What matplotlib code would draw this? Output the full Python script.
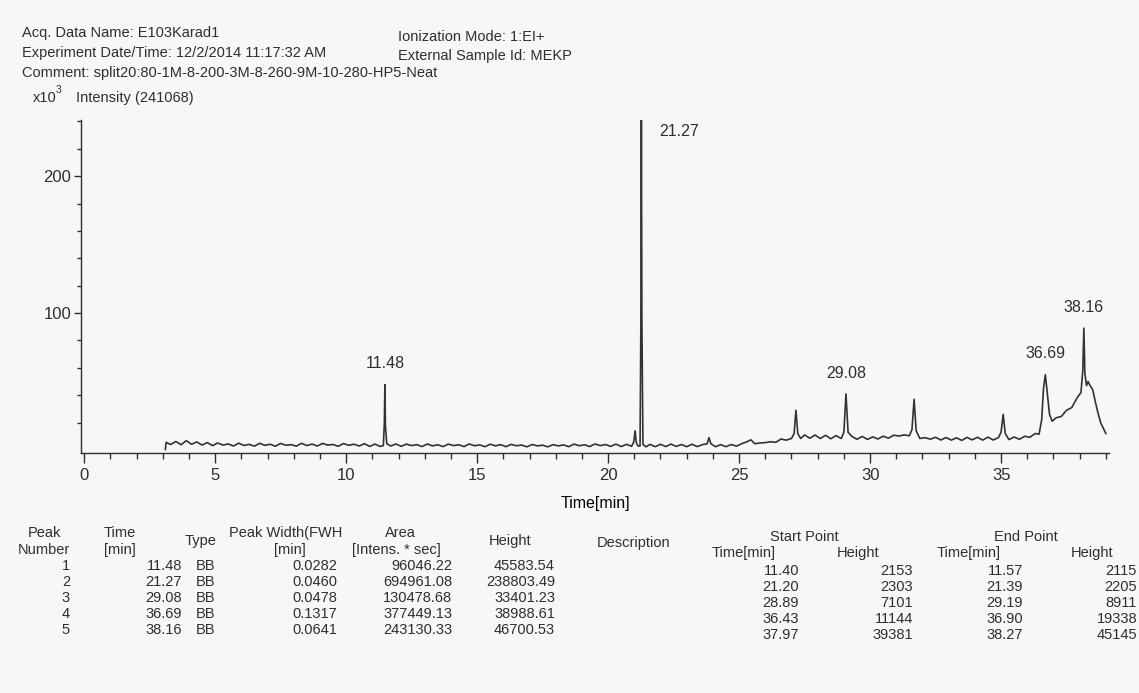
import matplotlib
matplotlib.use("Agg")
import matplotlib.pyplot as plt
from matplotlib.ticker import MultipleLocator

# chromatogram trace (time in min, intensity in x10^3 counts)
trace_time = [
    3.10, 3.13, 3.3, 3.5, 3.7, 3.9, 4.1, 4.3, 4.5, 4.7,
    4.9, 5.1, 5.3, 5.5, 5.7, 5.9, 6.1, 6.3, 6.5, 6.7,
    6.9, 7.1, 7.3, 7.5, 7.7, 7.9, 8.1, 8.3, 8.5, 8.7,
    8.9, 9.1, 9.3, 9.5, 9.7, 9.9, 10.1, 10.3, 10.5, 10.7,
    10.9, 11.1, 11.3, 11.42, 11.46, 11.48, 11.50, 11.55, 11.7, 11.9,
    12.1, 12.3, 12.5, 12.7, 12.9, 13.1, 13.3, 13.5, 13.7, 13.9,
    14.1, 14.3, 14.5, 14.7, 14.9, 15.1, 15.3, 15.5, 15.7, 15.9,
    16.1, 16.3, 16.5, 16.7, 16.9, 17.1, 17.3, 17.5, 17.7, 17.9,
    18.1, 18.3, 18.5, 18.7, 18.9, 19.1, 19.3, 19.5, 19.7, 19.9,
    20.1, 20.3, 20.5, 20.7, 20.9, 20.98, 21.03, 21.08, 21.15, 21.22,
    21.25, 21.27, 21.29, 21.33, 21.45, 21.6, 21.8, 22.0, 22.2, 22.4,
    22.6, 22.8, 23.0, 23.2, 23.4, 23.6, 23.78, 23.85, 23.92, 24.1,
    24.3, 24.5, 24.7, 24.9, 25.1, 25.3, 25.45, 25.6, 25.8, 26.0,
    26.2, 26.4, 26.6, 26.8, 27.0, 27.10, 27.17, 27.24, 27.35, 27.5,
    27.7, 27.9, 28.1, 28.3, 28.5, 28.7, 28.9, 29.0, 29.08, 29.16,
    29.3, 29.5, 29.7, 29.9, 30.1, 30.3, 30.5, 30.7, 30.9, 31.1,
    31.3, 31.5, 31.6, 31.68, 31.76, 31.9, 32.1, 32.3, 32.5, 32.7,
    32.9, 33.1, 33.3, 33.5, 33.7, 33.9, 34.1, 34.3, 34.5, 34.7,
    34.9, 35.0, 35.08, 35.16, 35.3, 35.5, 35.7, 35.9, 36.1, 36.3,
    36.45, 36.55, 36.62, 36.69, 36.76, 36.85, 36.95, 37.1, 37.3, 37.5,
    37.7, 37.9, 38.05, 38.12, 38.16, 38.20, 38.26, 38.32, 38.4, 38.5,
    38.6, 38.7, 38.8, 38.9, 39.0,
]
trace_kcounts = [
    0.3, 5.6, 4.0, 6.2, 3.9, 6.8, 4.2, 5.9, 3.6, 5.4,
    3.2, 5.1, 3.6, 4.4, 2.9, 5.0, 3.3, 4.1, 2.8, 4.9,
    3.4, 4.2, 2.7, 4.8, 3.5, 3.9, 2.8, 4.9, 3.2, 4.3,
    2.9, 4.8, 3.6, 4.0, 2.7, 4.7, 3.4, 4.2, 2.9, 4.6,
    2.6, 4.3, 2.6, 3.2, 20.0, 47.7, 18.0, 4.6, 2.9, 4.4,
    2.7, 4.3, 3.2, 3.9, 2.5, 4.4, 3.0, 3.8, 2.5, 4.3,
    3.2, 3.8, 2.5, 4.4, 3.1, 3.7, 2.4, 4.2, 3.0, 3.9,
    2.4, 4.1, 3.1, 3.6, 2.3, 4.0, 3.0, 3.5, 2.3, 3.9,
    3.0, 3.7, 2.4, 4.3, 3.1, 3.8, 2.5, 4.4, 3.2, 4.0,
    2.6, 4.3, 2.5, 4.1, 2.7, 6.0, 14.0, 5.0, 2.8, 3.0,
    90.0, 241.0, 95.0, 4.0, 2.3, 4.1, 2.4, 4.2, 2.5, 4.3,
    2.6, 4.0, 2.4, 4.2, 2.5, 3.9, 4.5, 9.0, 4.6, 2.4,
    3.9, 2.4, 4.0, 2.8, 4.6, 6.0, 7.4, 4.6, 5.1, 5.4,
    6.0, 5.6, 8.0, 7.2, 8.4, 12.0, 29.0, 12.0, 8.4, 11.0,
    8.6, 10.9, 8.4, 10.7, 8.2, 10.5, 8.4, 13.0, 41.0, 13.0,
    10.0, 7.8, 9.9, 7.7, 9.6, 8.0, 10.1, 8.6, 10.8, 10.2,
    11.0, 10.4, 15.0, 37.0, 14.0, 8.4, 9.0, 7.9, 9.3, 7.3,
    9.1, 7.2, 8.9, 7.0, 9.2, 7.4, 9.3, 7.2, 9.4, 7.3,
    9.0, 13.0, 26.0, 12.0, 7.6, 9.5, 7.8, 10.0, 9.3, 12.0,
    11.5, 22.0, 45.0, 55.0, 42.0, 26.0, 21.0, 23.5, 24.5, 29.0,
    31.0, 38.0, 42.0, 58.0, 89.0, 56.0, 47.0, 50.0, 47.0, 44.0,
    35.0, 27.0, 20.0, 16.0, 12.0,
]

# labelled peaks: retention time and apex (x10^3) as drawn
label_times = [11.48, 21.27, 29.08, 36.69, 38.16]
label_apex = [47.7, 241.0, 41.0, 55.0, 89.0]

# peak table
peak_number = ["1", "2", "3", "4", "5"]
peak_time = ["11.48", "21.27", "29.08", "36.69", "38.16"]
peak_type = ["BB", "BB", "BB", "BB", "BB"]
peak_width = ["0.0282", "0.0460", "0.0478", "0.1317", "0.0641"]
peak_area = ["96046.22", "694961.08", "130478.68", "377449.13", "243130.33"]
peak_height = ["45583.54", "238803.49", "33401.23", "38988.61", "46700.53"]
start_time = ["11.40", "21.20", "28.89", "36.43", "37.97"]
start_height = ["2153", "2303", "7101", "11144", "39381"]
end_time = ["11.57", "21.39", "29.19", "36.90", "38.27"]
end_height = ["2115", "2205", "8911", "19338", "45145"]

header_left = [
    "Acq. Data Name: E103Karad1",
    "Experiment Date/Time: 12/2/2014 11:17:32 AM",
    "Comment: split20:80-1M-8-200-3M-8-260-9M-10-280-HP5-Neat",
]
header_right = ["Ionization Mode: 1:EI+", "External Sample Id: MEKP"]

FONT = ["Liberation Sans Narrow", "Liberation Sans", "DejaVu Sans"]
INK = "#2e2e2e"
PAPER = "#f7f7fa"
plt.rcParams["font.family"] = FONT
plt.rcParams["text.color"] = INK
plt.rcParams["axes.edgecolor"] = INK
plt.rcParams["xtick.color"] = INK
plt.rcParams["ytick.color"] = INK

W, H = 1139, 693
fig = plt.figure(figsize=(W / 100, H / 100), dpi=100, facecolor=PAPER)


def put(x, y, s, **kw):
    # place text using pixel positions measured from the top-left corner
    kw.setdefault("fontsize", 10.5)
    kw.setdefault("va", "center")
    fig.text(x / W, 1 - y / H, s, **kw)


ax = fig.add_axes([81 / W, 1 - 453 / H, 1028 / W, 333 / H])
ax.set_facecolor(PAPER)
ax.plot(trace_time, trace_kcounts, color="#333333", linewidth=1.2)

ax.set_xlim(-0.12, 39.12)
ax.set_ylim(-2.2, 241)
for side in ["top", "right"]:
    ax.spines[side].set_visible(False)
ax.spines["left"].set_linewidth(1.0)
ax.spines["bottom"].set_linewidth(1.0)

ax.xaxis.set_major_locator(MultipleLocator(5))
ax.xaxis.set_minor_locator(MultipleLocator(1))
ax.set_yticks([100, 200])
ax.set_yticks([v for v in range(20, 241, 20) if v not in (100, 200)], minor=True)
ax.tick_params(axis="x", which="major", direction="out", length=7, width=1, labelsize=12, pad=4)
ax.tick_params(axis="x", which="minor", direction="out", length=4, width=1)
ax.tick_params(axis="y", which="major", direction="out", length=5, width=1, labelsize=12, pad=2)
ax.tick_params(axis="y", which="minor", direction="out", length=3, width=1)
ax.set_xlabel("Time[min]", fontsize=11.5, labelpad=9)

for t, apex in zip(label_times, label_apex):
    if t == 21.27:
        ax.annotate(f"{t:.2f}", (t, apex), xytext=(13, -8), textcoords="offset points",
                    ha="left", va="center", fontsize=11.5)
    else:
        ax.annotate(f"{t:.2f}", (t, apex), xytext=(0, 15), textcoords="offset points",
                    ha="center", va="center", fontsize=11.5)

# report header
for i, s in enumerate(header_left):
    put(22, 33 + 20 * i, s)
for i, s in enumerate(header_right):
    put(398, 37 + 19 * i, s)
put(33, 98, "x10")
put(56, 90, "3", fontsize=7.5)
put(76, 98, "Intensity (241068)")

# peak table headers
put(44, 533, "Peak", ha="center")
put(44, 550, "Number", ha="center")
put(104, 533, "Time")
put(104, 550, "[min]")
put(201, 541, "Type", ha="center")
put(286, 533, "Peak Width(FWH", ha="center")
put(290, 550, "[min]", ha="center")
put(400, 533, "Area", ha="center")
put(396, 550, "[Intens. * sec]", ha="center")
put(510, 541, "Height", ha="center")
put(634, 543, "Description", ha="center")
put(804, 537, "Start Point", ha="center")
put(744, 553, "Time[min]", ha="center")
put(858, 553, "Height", ha="center")
put(1026, 537, "End Point", ha="center")
put(969, 553, "Time[min]", ha="center")
put(1092, 553, "Height", ha="center")

for i in range(len(peak_number)):
    y = 566 + 16 * i
    put(70, y, peak_number[i], ha="right")
    put(182, y, peak_time[i], ha="right")
    put(196, y, peak_type[i])
    put(337, y, peak_width[i], ha="right")
    put(452, y, peak_area[i], ha="right")
    put(555, y, peak_height[i], ha="right")
    y2 = 571 + 16 * i
    put(799, y2, start_time[i], ha="right")
    put(913, y2, start_height[i], ha="right")
    put(1023, y2, end_time[i], ha="right")
    put(1137, y2, end_height[i], ha="right")

fig.savefig("out.png", dpi=100, facecolor=PAPER)
